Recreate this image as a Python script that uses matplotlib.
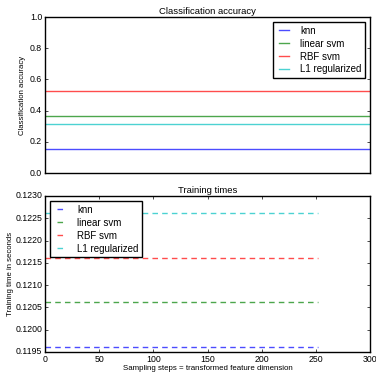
import matplotlib
matplotlib.use("Agg")
import matplotlib.pyplot as plt

plt.style.use("classic")
plt.rcParams["font.family"] = ["Liberation Sans", "DejaVu Sans"]
plt.rcParams["figure.facecolor"] = "white"

labels = ["knn", "linear svm", "RBF svm", "L1 regularized"]
colors = ["b", "g", "r", "c"]
accuracy_scores = [0.155, 0.367, 0.525, 0.315]
training_times = [0.11961, 0.12062, 0.12162, 0.12262]
sample_range = [0, 252]

fig = plt.figure(figsize=(3.76, 3.74), dpi=100)
accuracy = fig.add_axes([45 / 376, 1 - 173 / 374, 325 / 376, 156 / 374])
timescale = fig.add_axes([45 / 376, 1 - 352 / 374, 325 / 376, 156 / 374])

for lab, col, score, t in zip(labels, colors, accuracy_scores, training_times):
    accuracy.plot(sample_range, [score, score], color=col, alpha=0.7, lw=1, label=lab)
    timescale.plot(sample_range, [t, t], "--", dashes=(4, 3), color=col, alpha=0.7, lw=1, label=lab)

accuracy.set_xlim(sample_range)
accuracy.set_ylim(0, 1)
accuracy.set_xticks([])
accuracy.set_ylabel("Classification accuracy", fontsize=5.6, labelpad=3)
accuracy.set_title("Classification accuracy", fontsize=6.8, pad=2)
accuracy.legend(loc="best", fontsize=7, handlelength=1.6, borderpad=0.4, labelspacing=0.3)

timescale.set_xlim(0, 300)
timescale.set_ylim(0.1195, 0.1230)
timescale.set_xlabel("Sampling steps = transformed feature dimension", fontsize=5.7, labelpad=1)
timescale.set_ylabel("Training time in seconds", fontsize=5.6, labelpad=1)
timescale.set_title("Training times", fontsize=6.8, pad=2)
timescale.legend(loc="upper left", fontsize=7, handlelength=1.6, borderpad=0.4, labelspacing=0.3)
timescale.ticklabel_format(useOffset=False)

for ax in (accuracy, timescale):
    ax.tick_params(labelsize=6.3, length=2.5, pad=2)

fig.savefig("out.png", dpi=100)
